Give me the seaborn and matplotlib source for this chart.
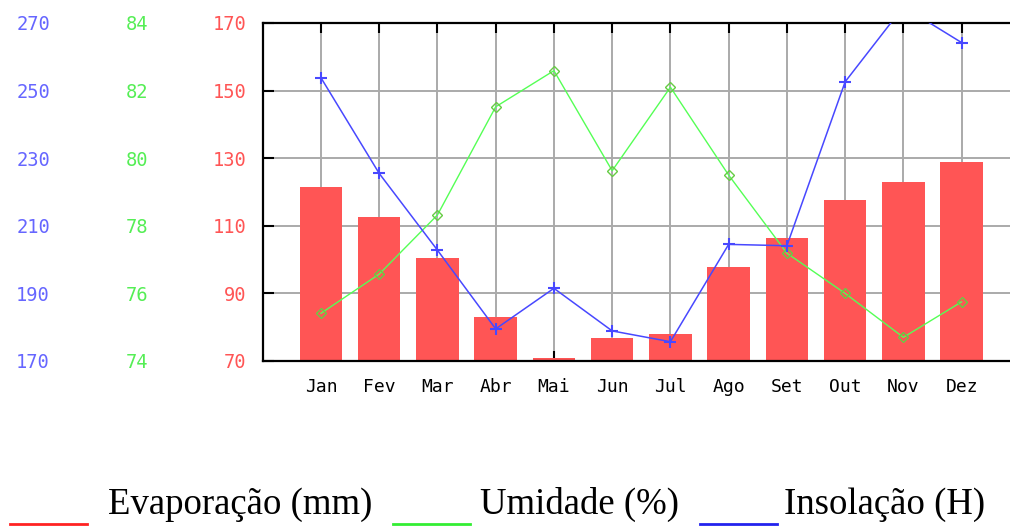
import numpy as np
import matplotlib.pyplot as plt
from matplotlib.lines import Line2D
import seaborn as sns

months = ["Jan", "Fev", "Mar", "Abr", "Mai", "Jun", "Jul", "Ago", "Set", "Out", "Nov", "Dez"]
evaporacao = [121.5, 112.6, 100.4, 83.1, 70.8, 76.7, 77.9, 97.9, 106.3, 117.6, 122.9, 128.8]
umidade = [75.41, 76.57, 78.32, 81.52, 82.59, 79.63, 82.10, 79.50, 77.19, 76.00, 74.70, 75.75]
insolacao = [253.8, 225.5, 202.8, 179.5, 191.5, 178.9, 175.7, 204.5, 204.1, 252.6, 274.8, 264.2]

evap_ticks = [70, 90, 110, 130, 150, 170]
umid_ticks = [74, 76, 78, 80, 82, 84]
insol_ticks = [170, 190, 210, 230, 250, 270]

RED, GREEN, BLUE = "#ff5555", "#55ee55", "#4848ff"

plt.rcParams["font.family"] = ["DejaVu Sans Mono"]
fig = plt.figure(figsize=(10.1, 5.26), dpi=100)
ax = fig.add_axes([0.2601, 0.3137, 0.7416, 0.6426])

pos = np.arange(len(months))
sns.barplot(x=pos, y=evaporacao, ax=ax, color=RED, saturation=1, width=0.73,
            linewidth=0, native_scale=True)
ax.set_ylim(70, 170)
ax.set_yticks(evap_ticks)
ax.set_xticks(pos)
ax.set_xticklabels(months)
ax.set_axisbelow(True)
ax.grid(True, color="#aaaaaa", lw=1.4)
ax.tick_params(axis="x", direction="in", length=7, width=1.5, top=True, pad=12,
               labelsize=13, colors="black")
ax.tick_params(axis="y", direction="in", length=8, width=1.5, right=True, pad=11.5,
               labelsize=13.5, labelcolor=RED)
for s in ["left", "top", "bottom"]:
    ax.spines[s].set_linewidth(1.6)
    ax.spines[s].set_color("black")
ax.spines["right"].set_visible(False)

ax_g = ax.twinx()
sns.lineplot(x=pos, y=umidade, ax=ax_g, color="#55ff55", lw=1, marker="D",
             markersize=5, markerfacecolor="none", markeredgecolor="#66cc44",
             markeredgewidth=1)
ax_g.set_ylim(74, 84)
ax_g.set_yticks(umid_ticks)

ax_b = ax.twinx()
sns.lineplot(x=pos, y=insolacao, ax=ax_b, color=BLUE, lw=1.1, marker="+",
             markersize=9, markeredgewidth=1.5, markeredgecolor=BLUE)
ax_b.set_ylim(170, 270)
ax_b.set_yticks(insol_ticks)

for tw, offset, col in [(ax_g, -0.153, GREEN), (ax_b, -0.284, "#6666ff")]:
    tw.yaxis.tick_left()
    tw.spines["left"].set_position(("axes", offset))
    for s in tw.spines.values():
        s.set_visible(False)
    tw.tick_params(axis="y", length=0, pad=0, labelsize=13.5, labelcolor=col)
    tw.set_ylabel("")

ax.set_xlim(-1, 11.86)

legend_items = [
    ("Evaporação (mm)", "#ff2222", 10, 87, 108),
    ("Umidade (%)", "#33ee33", 393, 470, 480),
    ("Insolação (H)", "#2222ee", 700, 777, 784),
]
for label, col, x0, x1, xt in legend_items:
    fig.add_artist(Line2D([x0 / 1010, x1 / 1010], [1 - 524 / 526] * 2,
                          transform=fig.transFigure, color=col, lw=2))
    fig.text(xt / 1010, 1 - 514 / 526, label, family="Liberation Serif",
             fontsize=26.5, va="baseline", ha="left")

fig.savefig("out.png", dpi=100)
plt.close(fig)
